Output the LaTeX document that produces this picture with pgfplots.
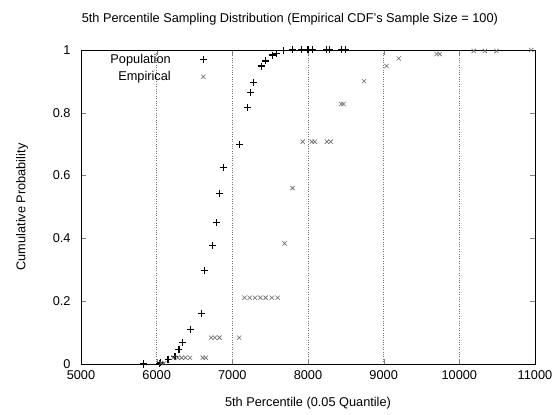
\documentclass[border=0pt]{standalone}
\usepackage{pgfplots}
\pgfplotsset{compat=1.18}
\usepackage{fontspec}
\setmainfont{Liberation Sans}
\begin{document}
\begin{tikzpicture}
\useasboundingbox (0,0) rectangle (555bp,415bp);
\begin{axis}[
    at={(81bp,51bp)}, anchor=south west,
    scale only axis,
    width=454bp, height=314bp,
    xmin=5000, xmax=11000,
    ymin=0, ymax=1,
    xtick={5000,6000,...,11000},
    ytick={0,0.2,...,1},
    yticklabels={0,0.2,0.4,0.6,0.8,1},
    scaled x ticks=false,
    xticklabel style={/pgf/number format/1000 sep={}},
    /pgf/number format/assume math mode=true,
    tick align=inside,
    major tick length=5bp,
    xmajorgrids,
    major grid style={dotted, black!55, line width=0.6pt},
    axis line style={line width=0.9pt},
    font=\fontsize{12.8}{15}\selectfont,
    yticklabel style={xshift=-7bp},
    xticklabel style={yshift=-3bp},
    title={5th Percentile Sampling Distribution (Empirical CDF's Sample Size = 100)},
    title style={at={(axis description cs:0.46,1.08)}, anchor=center, font=\fontsize{12.8}{15}\selectfont},
    xlabel={5th Percentile (0.05 Quantile)},
    xlabel style={at={(axis description cs:0.5,-0.124)}, anchor=center},
    ylabel={Cumulative Probability},
    ylabel style={at={(axis description cs:-0.13,0.5)}, anchor=center, rotate=0},
    legend plot pos=right,
    legend cell align=right,
    legend style={draw=none, fill=none, at={(axis description cs:0.284,1.0)}, anchor=north east,
        font=\fontsize{12.8}{15}\selectfont, row sep=2.5bp,
        /tikz/every odd column/.append style={column sep=27bp}},
]
% Population
\addplot[only marks, mark=+, mark size=3.5bp, line width=1.1pt, black] coordinates {
(5830,0) (6035,0.003) (6055,0.004) (6150,0.015) (6242,0.025) (6295,0.045)
(6338,0.069) (6444,0.110) (6590,0.161) (6638,0.297) (6740,0.376) (6795,0.451)
(6836,0.544) (6889,0.625) (7100,0.700) (7197,0.816) (7241,0.864) (7285,0.897)
(7386,0.949) (7440,0.965) (7532,0.984) (7585,0.990) (7673,0.997) (7790,1)
(7915,1) (8000,1) (8065,1) (8245,1) (8290,1) (8445,1) (8490,1)
};
% Empirical
\addplot[only marks, mark=x, mark size=3bp, line width=0.6pt, black!60] coordinates {
(6060,0.003) (6100,0.003)
(6220,0.020) (6280,0.020) (6330,0.020) (6380,0.020) (6440,0.020) (6610,0.020) (6650,0.020)
(6720,0.084) (6770,0.084) (6830,0.084) (7090,0.084)
(7160,0.211) (7230,0.211) (7300,0.211) (7370,0.211) (7440,0.211) (7520,0.211) (7600,0.211)
(7690,0.384) (7795,0.560)
(7930,0.708) (8050,0.708) (8090,0.708) (8250,0.708) (8300,0.708)
(8440,0.828) (8470,0.828) (8742,0.901) (9037,0.949) (9200,0.973)
(9700,0.987) (9740,0.987) (10190,0.997) (10337,0.997) (10490,0.997) (10950,1)
};
\legend{Population, Empirical}
\end{axis}
\end{tikzpicture}
\end{document}
